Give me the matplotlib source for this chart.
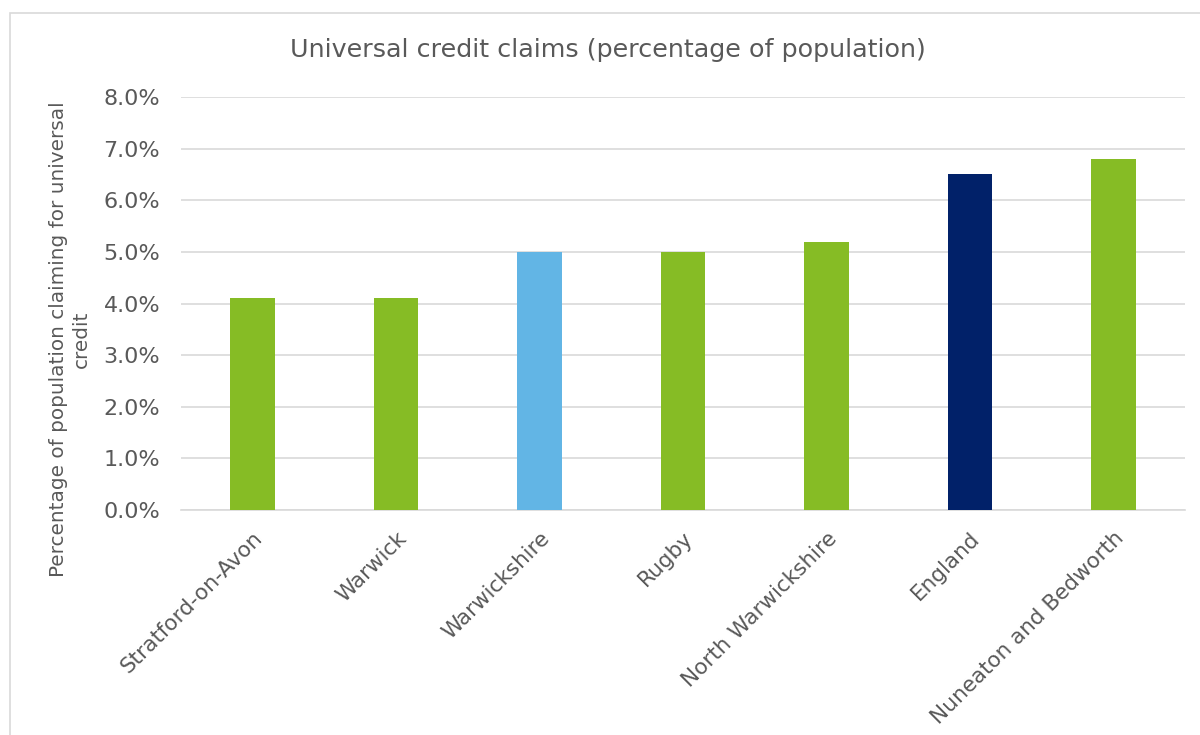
import numpy as np
import matplotlib.pyplot as plt
from matplotlib.ticker import PercentFormatter
from matplotlib.patches import Rectangle

areas = ['Stratford-on-Avon', 'Warwick', 'Warwickshire', 'Rugby',
         'North Warwickshire', 'England', 'Nuneaton and Bedworth']
claims = [4.1, 4.1, 5.0, 5.0, 5.2, 6.5, 6.8]
bar_colors = ['#86BC25', '#86BC25', '#62B5E5', '#86BC25',
              '#86BC25', '#012169', '#86BC25']

txt = '#595959'
plt.rcParams['font.family'] = ['DejaVu Sans']

fig = plt.figure(figsize=(12, 7.35), dpi=100)
# chart border like the excel frame
fig.patches.append(Rectangle((10 / 1200, -0.01), 1.2, (735 - 13) / 735 + 0.01,
                             transform=fig.transFigure, fill=False,
                             edgecolor='#D9D9D9', linewidth=1.2))

ax = fig.add_axes([181 / 1200, (735 - 510) / 735, (1185 - 181) / 1200, (510 - 97) / 735])
x = np.arange(len(areas))
ax.bar(x, claims, width=0.31, color=bar_colors, zorder=3)

ax.set_xlim(-0.5, len(areas) - 0.5)
ax.set_ylim(0, 8)
ax.set_yticks(np.arange(0, 8.1, 1))
ax.yaxis.set_major_formatter(PercentFormatter(decimals=1))
ax.grid(axis='y', color='#D9D9D9', linewidth=1.2, zorder=0)
for s in ['top', 'right', 'left']:
    ax.spines[s].set_visible(False)
ax.spines['bottom'].set_color('#D9D9D9')
ax.spines['bottom'].set_linewidth(1.2)
ax.tick_params(length=0, labelsize=16, colors=txt)
ax.tick_params(axis='y', pad=15)
ax.set_xticks(x)
ax.set_xticklabels(areas, rotation=45, ha='right', rotation_mode='anchor')
ax.tick_params(axis='x', pad=13, labelsize=15.5)

# y axis title, two lines like excel wraps it
fig.text(70 / 1200, 1 - 339 / 735, 'Percentage of population claiming for universal\ncredit',
         rotation=90, ha='center', va='center', multialignment='center',
         fontsize=14.4, color=txt, linespacing=1.2)

fig.text(608 / 1200, 1 - 50 / 735, 'Universal credit claims (percentage of population)',
         ha='center', va='center', fontsize=18.3, color=txt)

fig.savefig('out.png', dpi=100)
